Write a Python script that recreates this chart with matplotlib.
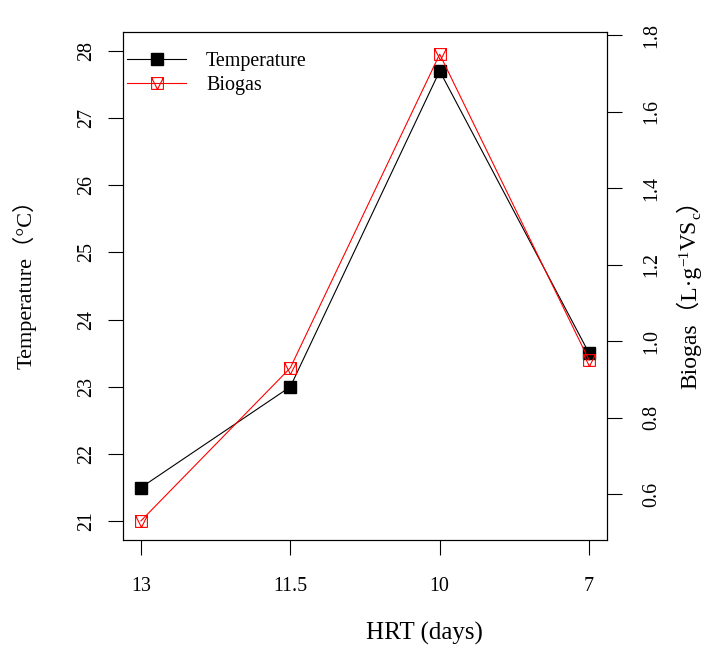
import matplotlib
matplotlib.use("Agg")
import matplotlib.pyplot as plt
from matplotlib.path import Path
from matplotlib.transforms import IdentityTransform

# data
hrt_labels = ["13", "11.5", "10", "7"]
temperature = [21.5, 23.0, 27.7, 23.5]
biogas = [0.53, 0.93, 1.75, 0.95]
temp_ticks = [21, 22, 23, 24, 25, 26, 27, 28]
bio_ticks = [0.6, 0.8, 1.0, 1.2, 1.4, 1.6, 1.8]

FAMS = ["Liberation Serif", "Noto Sans CJK SC"]
plt.rcParams["font.family"] = FAMS
plt.rcParams["axes.linewidth"] = 0.8

# square with a down-pointing triangle inside (R pch 14 look)
sq_tri = Path(
    [(-1, -1), (1, -1), (1, 1), (-1, 1), (-1, -1),
     (-1, 1), (0, -1), (1, 1)],
    [Path.MOVETO, Path.LINETO, Path.LINETO, Path.LINETO, Path.CLOSEPOLY,
     Path.MOVETO, Path.LINETO, Path.LINETO])

fig = plt.figure(figsize=(7.05, 6.46), dpi=100)
ax = fig.add_axes([123 / 705, 106 / 646, 484 / 705, 508 / 646])
ax2 = ax.twinx()

x = list(range(1, len(hrt_labels) + 1))
l1, = ax.plot(x, temperature, color="black", lw=0.8, marker="s", ms=8,
              label="Temperature")
l2, = ax2.plot(x, biogas, color="red", lw=0.8, marker=sq_tri, ms=8.5,
               mfc="none", mec="red", mew=0.8, label="Biogas")

ax.set_xlim(0.88, 4.12)
ax.set_ylim(20.72, 28.28)
ax2.set_ylim(0.48, 1.808)

ax.set_xticks(x)
ax.set_xticklabels(hrt_labels)
ax.set_yticks(temp_ticks)
ax2.set_yticks(bio_ticks)
ax2.set_yticklabels([f"{v:.1f}" for v in bio_ticks])

for a in (ax, ax2):
    a.tick_params(direction="out", length=10.5, width=0.8, labelsize=14.4,
                  pad=9)
ax.tick_params(axis="x", pad=16)
ax.tick_params(axis="y", labelrotation=90)
ax2.tick_params(axis="y", labelrotation=90, pad=15)
for t in ax.get_yticklabels() + ax2.get_yticklabels():
    t.set_va("center")

ax.legend([l1, l2], ["Temperature", "Biogas"], loc="upper left",
          bbox_to_anchor=(0.0, 0.968), frameon=False, fontsize=14.4,
          handlelength=2.95, handletextpad=1.0, labelspacing=0.25,
          borderaxespad=0.0, borderpad=0.2)

fig.text(424 / 705, 13 / 646, "HRT (days)", fontsize=18, ha="center",
         va="center")
fig.text(25 / 705, 367 / 646, "Temperature（°C）", fontsize=16,
         rotation=90, ha="center", va="center")


def vlabel(xb, yc, pieces):
    # stack rotated pieces along y so that sub/superscripts can be shifted
    r = fig.canvas.get_renderer()
    texts = []
    for s, size, dx in pieces:
        t = fig.text(0, 0, s, fontsize=size, rotation=90,
                     rotation_mode="anchor", ha="left", va="baseline",
                     family=FAMS, transform=IdentityTransform())
        texts.append((t, dx))
    lens = [t.get_window_extent(r).height for t, _ in texts]
    y = yc - sum(lens) / 2
    for (t, dx), n in zip(texts, lens):
        t.set_position((xb + dx, y))
        y += n


vlabel(696, 357, [("Biogas（L·g", 17, 0), ("−1", 11, -8),
                  ("VS", 17, 0), ("c", 11, 4), ("）", 17, 0)])

fig.savefig("out.png", dpi=100)
